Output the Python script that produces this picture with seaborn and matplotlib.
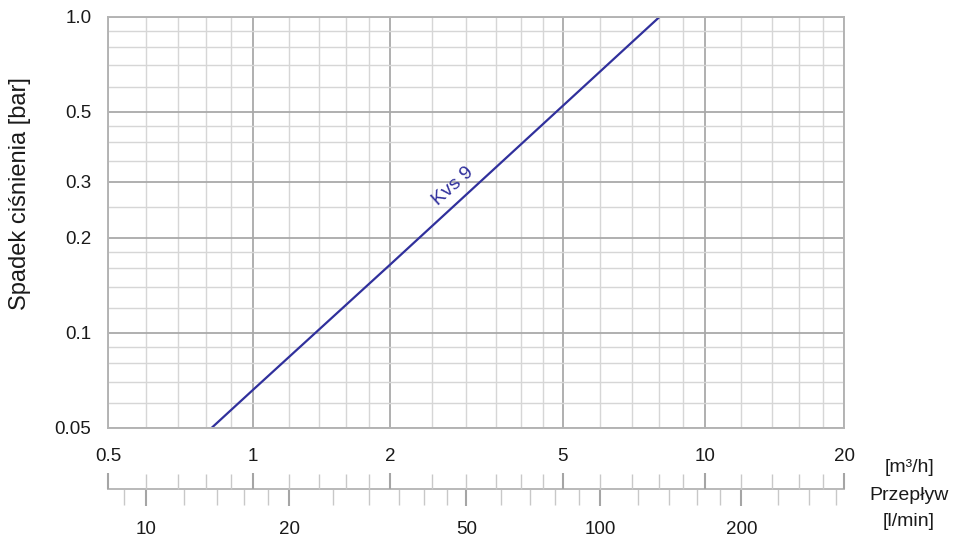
import numpy as np
import pandas as pd
import seaborn as sns
import matplotlib
matplotlib.use("Agg")
import matplotlib.pyplot as plt
from matplotlib.ticker import FixedLocator, FixedFormatter, NullFormatter

# ---------------- data ----------------
flow_m3h = [0.82, 1.0, 2.0, 5.0, 8.03]
dp_bar = [0.05, 0.066, 0.164, 0.522, 1.00]
curve_label = "Kvs 9"

x_major = [0.5, 1, 2, 5, 10, 20]
x_major_labels = ["0.5", "1", "2", "5", "10", "20"]
x_minor = [0.6, 0.7, 0.8, 0.9, 1.2, 1.4, 1.6, 1.8, 2.5, 3, 3.5, 4, 4.5,
           6, 7, 8, 9, 12, 14, 16, 18]
y_major = [0.05, 0.1, 0.2, 0.3, 0.5, 1.0]
y_major_labels = ["0.05", "0.1", "0.2", "0.3", "0.5", "1.0"]
y_minor = [0.06, 0.07, 0.08, 0.09, 0.12, 0.14, 0.16, 0.18, 0.25,
           0.35, 0.4, 0.45, 0.6, 0.7, 0.8, 0.9]
lmin_major = [10, 20, 50, 100, 200]
lmin_major_labels = ["10", "20", "50", "100", "200"]
lmin_minor = [9, 12, 14, 16, 18, 25, 30, 35, 40, 45, 60, 70, 80, 90,
              120, 140, 160, 180, 240, 280, 320]

ylabel = "Spadek ciśnienia [bar]"
unit_top = "[m³/h]"
unit_mid = "Przepływ"
unit_bot = "[l/min]"

# ---------------- flow scale (log, decade segments as printed) ----------------
seg_values = [0.5, 1, 2, 5, 10, 20]
seg_pos = [0.0, 0.197, 0.383, 0.618, 0.811, 1.0]
_lk = np.log10(np.array(seg_values, float))
_kp = np.array(seg_pos, float)


def _fwd(x):
    with np.errstate(divide="ignore", invalid="ignore"):
        lx = np.log10(np.asarray(x, float))
    y = np.interp(lx, _lk, _kp)
    s0 = (_kp[1] - _kp[0]) / (_lk[1] - _lk[0])
    s1 = (_kp[-1] - _kp[-2]) / (_lk[-1] - _lk[-2])
    y = np.where(lx < _lk[0], _kp[0] + (lx - _lk[0]) * s0, y)
    y = np.where(lx > _lk[-1], _kp[-1] + (lx - _lk[-1]) * s1, y)
    return y


def _inv(y):
    y = np.asarray(y, float)
    lx = np.interp(y, _kp, _lk)
    s0 = (_lk[1] - _lk[0]) / (_kp[1] - _kp[0])
    s1 = (_lk[-1] - _lk[-2]) / (_kp[-1] - _kp[-2])
    lx = np.where(y < _kp[0], _lk[0] + (y - _kp[0]) * s0, lx)
    lx = np.where(y > _kp[-1], _lk[-1] + (y - _kp[-1]) * s1, lx)
    return 10 ** lx


# ---------------- style ----------------
sns.set_theme(style="white")
plt.rcParams["font.family"] = ["Liberation Sans", "DejaVu Sans"]

W, H = 960, 546
fig = plt.figure(figsize=(W / 100, H / 100), dpi=100)

line_color = "#30309c"
major_grid = "#a9a9a9"
minor_grid = "#d6d6d6"
text_color = "#1a1a1a"
fs = 13.5

L, R, T, B = 108, 844, 16.5, 428
ax = fig.add_axes([L / W, 1 - B / H, (R - L) / W, (B - T) / H])

df = pd.DataFrame({"flow": flow_m3h, "dp": dp_bar})
sns.lineplot(data=df, x="flow", y="dp", ax=ax, color=line_color, lw=1.6)

ax.set_xscale("function", functions=(_fwd, _inv))
ax.set_yscale("log")
ax.set_xlim(x_major[0], x_major[-1])
ax.set_ylim(y_major[0], y_major[-1])

ax.xaxis.set_major_locator(FixedLocator(x_major))
ax.xaxis.set_minor_locator(FixedLocator(x_minor))
ax.xaxis.set_major_formatter(NullFormatter())
ax.xaxis.set_minor_formatter(NullFormatter())
ax.yaxis.set_major_locator(FixedLocator(y_major))
ax.yaxis.set_major_formatter(FixedFormatter(y_major_labels))
ax.yaxis.set_minor_locator(FixedLocator(y_minor))
ax.yaxis.set_minor_formatter(NullFormatter())
ax.tick_params(axis="both", which="both", length=0)
ax.tick_params(axis="y", which="major", labelsize=fs, pad=12, labelcolor=text_color)

ax.grid(True, which="minor", color=minor_grid, lw=1.0)
ax.grid(True, which="major", color=major_grid, lw=1.3)
ax.set_axisbelow(True)
for s in ax.spines.values():
    s.set_visible(True)
    s.set_color("#b4b4b4")
    s.set_linewidth(1.4)

ax.set_xlabel("")
ax.set_ylabel(ylabel, fontsize=17, color=text_color)
ax.yaxis.set_label_coords(-0.104, 0.57)

ax.text(2.8, 0.29, curve_label, rotation=42, ha="center", va="center",
        color=line_color, fontsize=14, rotation_mode="anchor")

# ---------------- secondary flow scale ----------------
y_line = 489
ax2 = fig.add_axes([L / W, 1 - y_line / H, (R - L) / W, 1e-5])
ax2.set_xscale("function", functions=(_fwd, _inv))
ax2.set_xlim(x_major[0], x_major[-1])
ax2.set_yticks([])
ax2.patch.set_alpha(0)
for k, s in ax2.spines.items():
    s.set_visible(k == "bottom")
ax2.spines["bottom"].set_color("#b9b9b9")
ax2.spines["bottom"].set_linewidth(1.4)

to_m3h = 60.0 / 1000.0
ax2.xaxis.set_major_locator(FixedLocator([v * to_m3h for v in lmin_major]))
ax2.xaxis.set_major_formatter(FixedFormatter(lmin_major_labels))
ax2.xaxis.set_minor_locator(FixedLocator([v * to_m3h for v in lmin_minor]))
ax2.xaxis.set_minor_formatter(NullFormatter())
ax2.tick_params(axis="x", which="major", direction="out", length=12.2, width=1.5,
                color="#a5a5a5", labelsize=fs, pad=11, labelcolor=text_color)
ax2.tick_params(axis="x", which="minor", direction="out", length=11.5, width=1.0,
                color="#c8c8c8")

ax3 = ax2.twiny()
ax3.set_xscale("function", functions=(_fwd, _inv))
ax3.set_xlim(x_major[0], x_major[-1])
for s in ax3.spines.values():
    s.set_visible(False)
ax3.patch.set_alpha(0)
ax3.xaxis.set_major_locator(FixedLocator(x_major))
ax3.xaxis.set_major_formatter(FixedFormatter(x_major_labels))
ax3.xaxis.set_minor_locator(FixedLocator(x_minor))
ax3.xaxis.set_minor_formatter(NullFormatter())
ax3.tick_params(axis="x", which="major", direction="out", length=11.5, width=1.5,
                color="#a5a5a5", labelsize=fs, pad=6, labelcolor=text_color)
ax3.tick_params(axis="x", which="minor", direction="out", length=10.5, width=1.0,
                color="#c8c8c8")

cx = 909 / W
fig.text(cx, 1 - 467 / H, unit_top, ha="center", va="center", fontsize=14, color=text_color)
fig.text(cx, 1 - 496 / H, unit_mid, ha="center", va="center", fontsize=14, color=text_color)
fig.text(cx, 1 - 521 / H, unit_bot, ha="center", va="center", fontsize=14, color=text_color)

fig.savefig("out.png", dpi=100, facecolor="white")
